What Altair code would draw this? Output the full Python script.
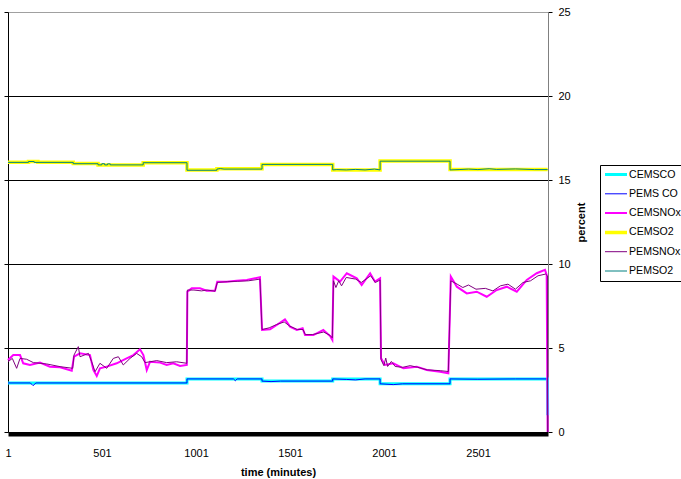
import altair as alt
import pandas as pd

SERIES = ["CEMSCO", "PEMS CO", "CEMSNOx", "CEMSO2", "PEMSNOx", "PEMSO2"]
COLORS = ["#00FFFF", "#0000FF", "#FF00FF", "#FFFF00", "#800080", "#008080"]
WIDTHS = [3, 1, 2, 3.5, 1, 1]
X_TICKS = [1, 501, 1001, 1501, 2001, 2501]
Y_TICKS = [0, 5, 10, 15, 20, 25]

# CEMSCO
cemsco_t = [1, 953, 953, 1352, 1352, 1728, 1728, 1980, 1980, 2352, 2352, 2870, 2871]
cemsco_v = [2.92, 2.92, 3.16, 3.16, 3.03, 3.03, 3.16, 3.16, 2.87, 2.87, 3.16, 3.16, 1.0]

# PEMS CO
pemsco_t = [1, 120, 134, 150, 953, 953, 1200, 1210, 1220, 1352, 1352, 1400, 1450, 1728, 1728,
            1800, 1850, 1900, 1980, 1980, 2050, 2100, 2352, 2352, 2500, 2700, 2870, 2871]
pemsco_v = [2.92, 2.92, 2.76, 2.92, 2.92, 3.16, 3.16, 3.05, 3.16, 3.16, 3.03, 3.0, 3.03, 3.03, 3.16,
            3.13, 3.1, 3.16, 3.16, 2.87, 2.82, 2.87, 2.87, 3.16, 3.14, 3.16, 3.16, 1.0]

# CEMSNOx
cemsnox_t = [1, 29, 65, 82, 118, 171, 224, 278, 340, 352, 384, 437, 455, 473, 490, 526, 579, 632,
             668, 703, 721, 739, 756, 810, 845, 880, 916, 952, 955, 978, 1022, 1058, 1102, 1114,
             1164, 1217, 1271, 1341, 1352, 1395, 1430, 1474, 1501, 1537, 1568, 1581, 1625, 1678,
             1714, 1726, 1732, 1767, 1803, 1856, 1882, 1927, 1953, 1980, 1985, 2006, 2050, 2104,
             2175, 2228, 2299, 2343, 2356, 2388, 2441, 2494, 2547, 2600, 2654, 2707, 2760, 2813,
             2857, 2866, 2871]
cemsnox_v = [4.29, 4.58, 4.58, 4.09, 3.99, 4.13, 3.89, 3.85, 3.65, 4.48, 4.68, 4.58, 3.69, 3.33,
             3.79, 3.89, 4.09, 4.38, 4.58, 4.92, 4.58, 3.69, 4.18, 4.13, 3.99, 4.09, 3.93, 3.99,
             8.35, 8.55, 8.55, 8.41, 8.41, 8.95, 8.95, 9.01, 9.05, 9.21, 6.07, 6.11, 6.37, 6.7,
             6.27, 6.07, 6.17, 5.77, 5.77, 6.07, 5.71, 5.48, 9.25, 8.95, 9.45, 9.15, 8.75, 9.45,
             8.95, 9.15, 4.39, 3.99, 4.09, 3.79, 3.89, 3.69, 3.59, 3.49, 9.25, 8.65, 8.25, 8.35,
             8.05, 8.45, 8.65, 8.35, 9.05, 9.45, 9.65, 9.35, 0.0]

# CEMSO2
cemso2_t = [1, 110, 110, 160, 160, 348, 348, 480, 480, 720, 720, 953, 953, 1112, 1112, 1352, 1352,
            1728, 1728, 1980, 1980, 2352, 2352, 2871]
cemso2_v = [16.05, 16.05, 16.1, 16.1, 16.05, 16.05, 15.98, 15.98, 15.9, 15.9, 16.03, 16.03, 15.6,
            15.6, 15.67, 15.67, 15.93, 15.93, 15.6, 15.6, 16.13, 16.13, 15.62, 15.62]

# PEMSNOx
pemsnox_t = [1, 24, 47, 65, 100, 136, 207, 278, 345, 352, 375, 384, 429, 446, 464, 490, 526, 561,
             588, 614, 650, 685, 712, 730, 792, 845, 898, 952, 955, 990, 1030, 1060, 1102, 1114,
             1170, 1220, 1280, 1341, 1352, 1390, 1430, 1470, 1500, 1540, 1570, 1582, 1620, 1680,
             1714, 1726, 1732, 1745, 1760, 1775, 1800, 1850, 1880, 1930, 1955, 1980, 1985, 2000,
             2010, 2020, 2040, 2060, 2100, 2140, 2180, 2230, 2300, 2343, 2356, 2390, 2420, 2450,
             2490, 2540, 2580, 2620, 2660, 2700, 2740, 2780, 2820, 2860, 2870, 2871]
pemsnox_v = [4.18, 4.38, 3.79, 4.38, 4.33, 4.13, 4.05, 3.89, 3.79, 4.58, 5.08, 4.48, 4.68, 4.18,
             3.59, 4.09, 3.79, 4.38, 4.48, 3.99, 4.38, 4.68, 4.48, 4.13, 4.25, 4.13, 4.18, 4.09,
             8.45, 8.45, 8.4, 8.45, 8.38, 8.9, 8.95, 8.97, 9.0, 9.1, 6.1, 6.2, 6.4, 6.55, 6.3,
             6.1, 6.1, 5.8, 5.8, 5.95, 5.75, 5.6, 9.0, 8.6, 9.0, 8.7, 9.2, 9.1, 8.9, 9.3, 8.9,
             9.05, 4.3, 3.95, 4.4, 3.9, 4.2, 3.9, 3.85, 3.95, 3.85, 3.7, 3.65, 3.6, 9.0, 8.8, 8.6,
             8.75, 8.5, 8.55, 8.4, 8.7, 8.8, 8.5, 8.9, 9.0, 9.3, 9.4, 9.3, 0.0]

# PEMSO2
pemso2_t = [1, 110, 110, 140, 140, 348, 348, 480, 480, 500, 500, 515, 515, 530, 530, 545, 545, 720,
            720, 953, 953, 1112, 1112, 1130, 1150, 1352, 1352, 1728, 1728, 1750, 1800, 1850, 1900,
            1950, 1980, 1980, 2352, 2352, 2400, 2450, 2500, 2560, 2600, 2700, 2800, 2871]
pemso2_v = [16.05, 16.05, 16.1, 16.1, 16.05, 16.05, 15.97, 15.97, 15.9, 15.9, 15.97, 15.97, 15.9,
            15.9, 15.96, 15.96, 15.9, 15.9, 16.03, 16.03, 15.58, 15.58, 15.65, 15.68, 15.65, 15.65,
            15.93, 15.93, 15.6, 15.62, 15.6, 15.63, 15.6, 15.65, 15.6, 16.12, 16.12, 15.6, 15.62,
            15.65, 15.62, 15.67, 15.63, 15.66, 15.62, 15.62]

SERIES_DATA = {
    "CEMSCO": (cemsco_t, cemsco_v),
    "PEMS CO": (pemsco_t, pemsco_v),
    "CEMSNOx": (cemsnox_t, cemsnox_v),
    "CEMSO2": (cemso2_t, cemso2_v),
    "PEMSNOx": (pemsnox_t, pemsnox_v),
    "PEMSO2": (pemso2_t, pemso2_v),
}

rows = []
for name in SERIES:
    ts, vs = SERIES_DATA[name]
    for i, (t, v) in enumerate(zip(ts, vs)):
        rows.append({"series": name, "t": t, "v": v, "i": i})
df = pd.DataFrame(rows)

FONT = "Liberation Sans"

x_enc = alt.X(
    "t:Q",
    scale=alt.Scale(domain=[1, 2873], nice=False, zero=False),
    axis=alt.Axis(
        values=X_TICKS, format="d", title="time (minutes)", titleFont=FONT, titleFontSize=11,
        titleFontWeight="bold", titleColor="black", titlePadding=8,
        labelFont=FONT, labelFontSize=11, labelColor="black", labelFlush=False,
        labelOverlap=False, ticks=False, tickSize=0, labelPadding=13,
        domainColor="black", domainWidth=4, offset=2, grid=False,
    ),
)

y_scale = alt.Scale(domain=[0, 25], nice=False, zero=True)

y_right = alt.Y(
    "v:Q",
    scale=y_scale,
    axis=alt.Axis(
        orient="right", values=Y_TICKS, format="d", title="percent", titleAngle=270,
        titleFont=FONT, titleFontSize=11, titleFontWeight="bold", titleColor="black",
        titleX=33, titleY=210, titleAlign="center", titleBaseline="middle",
        labelFont=FONT, labelFontSize=11, labelColor="black", labelFlush=False,
        tickSize=4, tickColor="black", labelPadding=6, domainColor="#808080",
        grid=True, gridWidth=1,
        gridColor={"condition": {"test": "datum.value >= 25", "value": "#a0a0a0"}, "value": "#000000"},
    ),
)

legend = alt.Legend(
    title=None, orient="none", legendX=592, legendY=153,
    symbolType="stroke", symbolSize=484, clipHeight=17, rowPadding=2.3,
    padding=1, symbolOffset=2, labelOffset=0, labelLimit=300,
    labelFont=FONT, labelFontSize=10.6, labelColor="black",
    strokeColor="black", fillColor="white",
)

color = alt.Color("series:N", scale=alt.Scale(domain=SERIES, range=COLORS), legend=legend)
swidth = alt.StrokeWidth("series:N",
                         scale=alt.Scale(type="ordinal", domain=SERIES, range=WIDTHS),
                         legend=legend)

layers = []
for name in SERIES:
    layers.append(
        alt.Chart(df)
        .transform_filter(alt.datum.series == name)
        .mark_line(clip=False)
        .encode(x=x_enc, y=y_right, color=color, strokeWidth=swidth, order=alt.Order("i:Q"))
    )
lines = alt.layer(*layers)

left = (
    alt.Chart(df)
    .transform_filter(alt.datum.series == "CEMSCO")
    .mark_rule(opacity=0)
    .encode(
        y=alt.Y(
            "v:Q", scale=y_scale,
            axis=alt.Axis(orient="left", values=Y_TICKS, labels=False, ticks=True,
                          tickSize=4, tickColor="black", grid=False,
                          domainColor="black", title=None),
        )
    )
)

chart = (
    alt.layer(lines, left)
    .resolve_axis(y="independent")
    .properties(
        width=540, height=420, autosize="none",
        padding={"left": 8, "top": 12, "right": 133, "bottom": 47},
        background="white",
    )
    .configure_view(stroke=None)
    .configure(font=FONT)
)

chart.save("out.html", embed_options={"renderer": "svg", "actions": False})
